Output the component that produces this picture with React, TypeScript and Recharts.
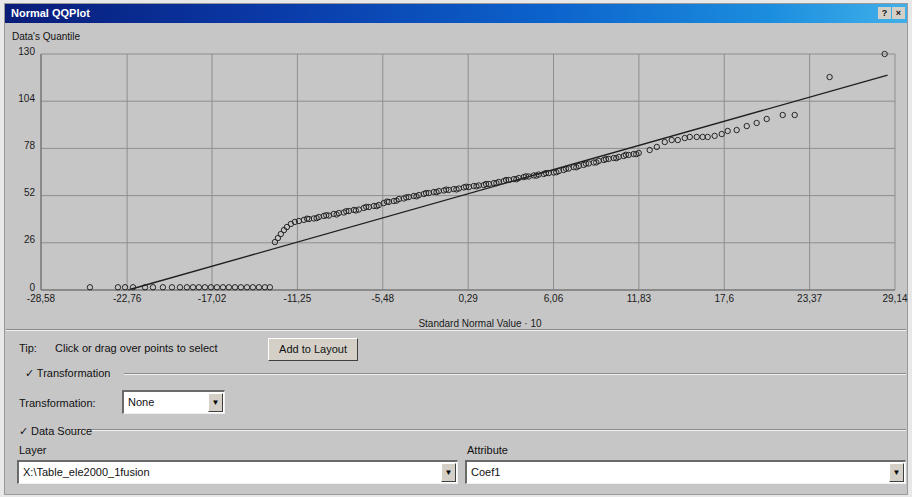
import React from "react";
import {
  ScatterChart,
  Scatter,
  XAxis,
  YAxis,
  CartesianGrid,
  ReferenceLine,
} from "recharts";

// standard normal value * 10 (x) vs data quantile (y)
const normalValue = [
  -25.27, -23.38, -22.9, -22.36, -21.55, -21.01, -20.34, -19.73, -19.19,
  -18.72, -18.31, -17.91, -17.5, -17.09, -16.69, -16.28, -15.88, -15.47,
  -15.07, -14.66, -14.26, -13.85, -13.45, -13.11,
  -12.77, -12.57, -12.37, -12.16, -11.96, -11.69, -11.42, -11.15,
  -10.81, -10.47, -10.14, -9.8, -9.46, -9.12, -8.79, -8.45, -8.11, -7.77,
  -7.43, -7.1, -6.76, -6.42, -6.08, -5.75, -5.41, -5.07, -4.73, -4.39,
  -4.06, -3.72, -3.38, -3.04, -2.7, -2.37, -2.03, -1.69, -1.35, -1.02,
  -0.68, -0.34, 0.0, 0.34,
  0.67, 1.01, 1.35, 1.69, 2.03, 2.36, 2.7, 3.04, 3.38, 3.71, 4.05, 4.39,
  4.73, 5.06, 5.4, 5.74, 6.08,
  6.42, 6.75, 7.09, 7.43, 7.77, 8.1, 8.44, 8.78, 9.12, 9.46, 9.79, 10.13,
  10.47, 10.81, 11.14, 11.48, 11.82,
  12.56, 13.04, 13.58, 14.05, 14.46, 14.93, 15.27, 15.74, 16.14, 16.48,
  16.95, 17.43, 17.83, 18.44, 19.12, 19.79, 20.47, 21.55, 22.36, 24.72,
  28.44,
  // second row of the thick middle band
  -10.6, -9.95, -9.3, -8.6, -7.95, -7.3, -6.6, -5.9, -5.2, -4.55, -3.9,
  -3.2, -2.55, -1.85, -1.2, -0.5, 0.15, 0.85, 1.5, 2.2, 2.85, 3.55, 4.2,
  4.9, 5.55, 6.25, 6.9, 7.6, 8.25, 8.95, 9.6, 10.3, 10.95, 11.65,
];
const dataQuantile = [
  1.5, 1.5, 1.5, 1.5, 1.5, 1.5, 1.5, 1.5, 1.5,
  1.5, 1.5, 1.5, 1.5, 1.5, 1.5, 1.5, 1.5, 1.5,
  1.5, 1.5, 1.5, 1.5, 1.5, 1.5,
  26.4, 28.6, 30.8, 33.0, 34.7, 36.4, 37.5, 38.0,
  38.6, 39.1, 39.4, 40.2, 40.8, 41.0, 41.9, 42.4, 42.7, 43.5,
  44.1, 44.3, 45.2, 45.7, 46.3, 46.8, 47.9, 48.5, 49.0, 50.1,
  50.4, 51.2, 51.8, 52.3, 52.9, 53.4, 54.0, 54.5, 54.8, 55.1,
  55.6, 55.9, 56.5, 56.7,
  57.3, 57.6, 57.8, 58.4, 58.9, 59.5, 60.0, 60.6, 61.1, 61.7, 62.2, 62.5,
  63.1, 63.6, 63.9, 64.4, 64.7,
  65.5, 66.1, 66.9, 67.7, 68.3, 68.9, 69.7, 70.2, 71.1, 71.6, 72.2, 72.7,
  73.3, 73.8, 74.4, 74.9, 75.5,
  77.1, 78.8, 81.5, 82.6, 82.6, 83.7, 84.3, 84.3, 84.3, 84.3,
  84.9, 85.9, 87.6, 88.1, 90.3, 92.0, 94.2, 96.4, 96.4, 117.3,
  130,
  39.3, 39.6, 41.2, 41.6, 43.4, 43.8, 45.8, 46.2, 48.7, 49.2, 51.0,
  51.6, 53.4, 53.9, 55.3, 55.4, 56.9, 57.1, 58.4, 58.9, 60.6, 61.0, 62.6,
  63.0, 64.4, 64.9, 66.8, 67.6, 69.6, 70.3, 72.1, 72.6, 74.5, 74.8,
];

// fitted reference line end points
const refLineX = [-22.7, 28.64];
const refLineY = [0, 118.4];

const xTicks = [-28.58, -22.76, -17.02, -11.25, -5.48, 0.29, 6.06, 11.83, 17.6, 23.37, 29.14];
const yTicks = [0, 26, 52, 78, 104, 130];

const points = normalValue.map((x, i) => ({ x, y: dataQuantile[i] }));

const FONT = '"Liberation Sans", Arial, sans-serif';
const BG = "#c6c6c6";

const fmt = (v: number) => String(v).replace(".", ",");

const Circle = (props: any) => (
  <circle cx={props.cx} cy={props.cy} r={2.7} fill="none" stroke="#262626" strokeWidth={1} />
);

// y labels sit a little above their grid line, as in the original
const YTick = (props: any) => (
  <text x={props.x} y={props.y - 2} textAnchor="end" dominantBaseline="middle" fontSize={10} fontFamily={FONT} fill="#1a1a1a">
    {props.payload.value}
  </text>
);

const abs = (left: number, top: number, extra: React.CSSProperties = {}): React.CSSProperties => ({
  position: "absolute",
  left,
  top,
  ...extra,
});

const sunkenBox: React.CSSProperties = {
  background: "#fff",
  borderTop: "2px solid #6a6a6a",
  borderLeft: "2px solid #6a6a6a",
  borderBottom: "1px solid #f0f0f0",
  borderRight: "1px solid #f0f0f0",
  boxSizing: "border-box",
};

const arrowBtn: React.CSSProperties = {
  position: "absolute",
  right: 1,
  top: 1,
  bottom: 1,
  width: 15,
  background: "#d4d0c8",
  borderTop: "1px solid #fff",
  borderLeft: "1px solid #fff",
  borderBottom: "1px solid #404040",
  borderRight: "1px solid #404040",
  boxSizing: "border-box",
  fontSize: 8,
  textAlign: "center",
  lineHeight: "18px",
  color: "#000",
};

const Combo = ({ left, top, width, text }: { left: number; top: number; width: number; text: string }) => (
  <div style={abs(left, top, { ...sunkenBox, width, height: 24 })}>
    <span style={{ position: "absolute", left: 4, top: 4, fontSize: 11 }}>{text}</span>
    <div style={arrowBtn}>▼</div>
  </div>
);

const Rule = ({ left, top, width }: { left: number; top: number; width: number }) => (
  <div
    style={abs(left, top, {
      width,
      height: 0,
      borderTop: "1px solid #8a8a8a",
      borderBottom: "1px solid #f2f2f2",
    })}
  />
);

export default function App() {
  return (
    <div
      style={{
        position: "absolute",
        left: 0,
        top: 0,
        width: 912,
        height: 497,
        background: "#e8e8e8",
        fontFamily: FONT,
        fontSize: 11,
        color: "#111",
        overflow: "hidden",
      }}
    >
      <div style={abs(4, 3, { width: 904, height: 492, background: BG, border: "1px solid #9a9a9a", boxSizing: "border-box" })} />

      {/* title bar */}
      <div
        style={abs(5, 4, {
          width: 902,
          height: 19,
          background: "linear-gradient(to right, #081c78 0%, #0a3aa8 30%, #0c62cc 60%, #1c8ede 85%, #40b0ea 100%)",
        })}
      >
        <span style={{ position: "absolute", left: 6, top: 3, color: "#fff", fontWeight: "bold", fontSize: 11 }}>
          Normal QQPlot
        </span>
        <div style={abs(873, 3, { width: 13, height: 12, background: "#d4d0c8", fontSize: 9, textAlign: "center", lineHeight: "12px", fontWeight: "bold" })}>?</div>
        <div style={abs(887, 3, { width: 13, height: 12, background: "#d4d0c8", fontSize: 9, textAlign: "center", lineHeight: "12px", fontWeight: "bold" })}>×</div>
      </div>

      <div style={abs(12, 31, { fontSize: 10 })}>Data's Quantile</div>

      <div style={abs(0, 0)}>
        <ScatterChart width={912} height={330} margin={{ top: 54, right: 17, bottom: 0, left: 0 }}>
          <CartesianGrid stroke="#8e8e8e" strokeWidth={1} />
          <XAxis
            type="number"
            dataKey="x"
            domain={[-28.58, 29.14]}
            ticks={xTicks}
            tickFormatter={fmt}
            height={40}
            tickSize={0}
            tickMargin={5}
            axisLine={{ stroke: "#6a6a6a" }}
            tick={{ fill: "#1a1a1a", fontSize: 10, fontFamily: FONT }}
            interval={0}
            label={{
              value: "Standard Normal Value · 10",
              position: "insideBottom",
              offset: 3,
              dx: 12,
              fill: "#1a1a1a",
              fontSize: 10,
              fontFamily: FONT,
            }}
          />
          <YAxis
            type="number"
            dataKey="y"
            domain={[0, 130]}
            ticks={yTicks}
            width={41}
            tickSize={0}
            tickMargin={6}
            axisLine={{ stroke: "#6a6a6a" }}
            tick={<YTick />}
            interval={0}
          />
          <ReferenceLine
            segment={[
              { x: refLineX[0], y: refLineY[0] },
              { x: refLineX[1], y: refLineY[1] },
            ]}
            stroke="#1e1e1e"
            strokeWidth={1.3}
          />
          <Scatter data={points} shape={Circle} isAnimationActive={false} />
        </ScatterChart>
      </div>

      {/* lower panel */}
      <Rule left={6} top={329} width={900} />

      <div style={abs(19, 342)}>Tip:</div>
      <div style={abs(55, 342)}>Click or drag over points to select</div>
      <div
        style={abs(268, 338, {
          width: 90,
          height: 23,
          boxSizing: "border-box",
          background: "#d4d0c8",
          borderTop: "1px solid #fff",
          borderLeft: "1px solid #fff",
          borderBottom: "1px solid #404040",
          borderRight: "1px solid #404040",
          textAlign: "center",
          lineHeight: "21px",
        })}
      >
        Add to Layout
      </div>

      <Rule left={124} top={373} width={782} />
      <div style={abs(25, 367)}>✓ Transformation</div>

      <div style={abs(19, 397)}>Transformation:</div>
      <Combo left={122} top={390} width={103} text="None" />

      <Rule left={70} top={429} width={836} />
      <div style={abs(19, 425)}>✓ Data Source</div>

      <div style={abs(19, 444)}>Layer</div>
      <div style={abs(467, 444)}>Attribute</div>
      <Combo left={17} top={460} width={441} text="X:\Table_ele2000_1fusion" />
      <Combo left={465} top={460} width={441} text="Coef1" />
    </div>
  );
}
